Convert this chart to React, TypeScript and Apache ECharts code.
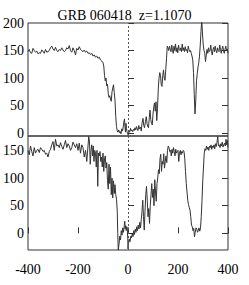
import React, { useEffect, useRef } from "react";
import * as echarts from "echarts";

const titleText = "GRB 060418  z=1.1070";
const xTicks = [-400, -200, 0, 200, 400];
const topYTicks = [0, 50, 100, 150, 200];
const bottomYTicks = [0, 50, 100, 150];

const topVel = [
  -400, -395, -390, -385, -380, -375, -370, -365, -360, -355, -350, -345, -340, -335, -330, -325, -320, -315, -310, -305,
  -300, -295, -290, -285, -280, -275, -270, -265, -260, -255, -250, -245, -240, -235, -230, -225, -220, -215, -210, -205,
  -200, -195, -190, -185, -180, -175, -170, -165, -160, -155, -150, -145, -140, -135, -130, -125, -120, -115, -110, -105,
  -100, -97, -94, -91, -88, -85, -82, -79, -76, -73, -70, -67, -64, -61, -58, -55, -52, -49, -46, -43,
  -40, -37, -34, -31, -28, -25, -22, -19, -16, -14, -12, -10, -8, -6, -4, -2, 0, 2, 4, 7,
  10, 13, 16, 19, 22, 25, 28, 31, 34, 37, 40, 43, 46, 50, 53, 56, 60, 63, 66, 70,
  73, 76, 79, 82, 85, 88, 91, 94, 97, 100, 103, 106, 109, 112, 115, 118, 121, 124, 127, 130,
  133, 136, 139, 142, 145, 148, 151, 154, 157, 160, 163, 166, 169, 172, 175, 178, 181, 184, 187, 190,
  193, 196, 199, 202, 205, 208, 211, 214, 217, 220, 223, 226, 229, 232, 235, 238, 241, 244, 247, 250,
  253, 256, 259, 262, 265, 268, 271, 274, 277, 280, 283, 286, 289, 292, 295, 298, 301, 304, 307, 310,
  313, 316, 319, 322, 325, 328, 331, 334, 337, 340, 343, 346, 349, 352, 355, 358, 361, 364, 367, 370,
  373, 376, 379, 382, 385, 388, 391, 394, 397, 400,
];
const topFlux = [
  148, 152, 146, 145, 154, 150, 147, 149, 144, 146, 145, 151, 149, 145, 152, 147, 148, 150, 155, 158,
  153, 150, 156, 150, 148, 152, 150, 155, 151, 148, 150, 155, 153, 159, 150, 147, 155, 150, 142, 154,
  151, 157, 152, 150, 148, 151, 147, 149, 145, 146, 143, 145, 140, 142, 138, 140, 136, 138, 133, 131,
  128, 122, 105, 95, 100, 86, 89, 72, 65, 68, 62, 58, 75, 82, 88, 74, 60, 30, 12, 4,
  2, 6, 1, 3, -1, 8, 4, 12, 22, 26, 10, 2, 18, 8, 3, 0, -3, -2, 5, 2,
  9, 4, 6, 3, 7, 5, 10, 6, 12, 8, 5, 14, 8, 11, 4, 18, 27, 14, 10, 22,
  30, 18, 12, 10, 28, 42, 25, 18, 15, 35, 48, 55, 40, 57, 23, 45, 80, 100, 110, 105,
  88, 85, 105, 115, 100, 96, 115, 135, 158, 155, 150, 158, 152, 148, 160, 150, 145, 158, 150, 162,
  148, 155, 146, 160, 152, 150, 155, 148, 162, 150, 155, 148, 157, 150, 152, 146, 158, 152, 148, 150,
  145, 140, 133, 110, 70, 35, 60, 95, 108, 120, 128, 140, 160, 185, 205, 180, 160, 150, 145, 130,
  142, 152, 145, 155, 148, 150, 160, 148, 142, 152, 156, 148, 158, 150, 146, 155, 150, 148, 160, 152,
  145, 153, 158, 150, 145, 152, 158, 150, 153, 145,
];

const bottomVel = [
  -400, -395, -390, -385, -380, -375, -370, -365, -360, -355, -350, -345, -340, -335, -330, -325, -320, -315, -310, -305,
  -300, -295, -290, -285, -280, -275, -270, -265, -260, -255, -250, -245, -240, -235, -230, -225, -220, -215, -210, -205,
  -200, -195, -190, -185, -180, -175, -170, -165, -160, -157, -154, -151, -148, -145, -142, -139, -136, -133, -130, -127,
  -124, -121, -118, -115, -112, -109, -106, -103, -100, -97, -94, -91, -88, -85, -82, -79, -76, -73, -70, -67,
  -64, -61, -58, -55, -52, -49, -46, -43, -41, -39, -36, -33, -30, -27, -24, -21, -18, -15, -13, -11,
  -9, -7, -5, -3, -1, 0, 2, 5, 8, 11, 14, 17, 20, 23, 26, 29, 32, 35, 38, 41,
  44, 47, 50, 53, 56, 59, 62, 65, 68, 71, 74, 77, 80, 83, 86, 89, 92, 95, 98, 101,
  104, 107, 110, 113, 116, 119, 122, 125, 128, 131, 134, 137, 140, 143, 146, 149, 152, 155, 158, 161,
  164, 167, 170, 173, 176, 179, 182, 185, 188, 191, 194, 197, 200, 203, 206, 209, 212, 215, 218, 221,
  224, 227, 230, 233, 236, 239, 242, 245, 248, 251, 254, 257, 260, 263, 266, 269, 272, 275, 278, 281,
  284, 287, 290, 293, 296, 299, 302, 305, 308, 311, 314, 317, 320, 323, 326, 329, 332, 335, 338, 341,
  344, 347, 350, 353, 356, 359, 362, 365, 368, 371, 374, 377, 380, 383, 386, 389, 392, 395, 398, 400,
];
const bottomFlux = [
  150, 142, 158, 148, 140, 155, 145, 150, 152, 146, 155, 152, 148, 150, 143, 145, 138, 148, 152, 160,
  166, 150, 170, 158, 160, 155, 164, 157, 152, 160, 168, 155, 162, 158, 150, 155, 165, 160, 155, 162,
  150, 163, 145, 160, 155, 138, 150, 130, 158, 175, 165, 125, 150, 160, 140, 158, 130, 150, 145, 120,
  150, 85, 145, 140, 148, 130, 138, 120, 145, 112, 135, 140, 118, 128, 95, 80, 125, 90, 120, 70,
  100, 64, 95, 72, 88, 70, 62, 40, 0, -30, -20, -5, -12, 5, -3, 10, 2, 14, 22, 8,
  14, 5, 12, 10, -10, -28, -18, -10, -15, -5, -8, 0, -6, 5, -2, 8, 2, 12, 5, 15,
  8, 20, 10, 25, 40, 60, 30, 6, 40, 70, 85, 60, 30, 45, 18, 50, 70, 90, 65, 80,
  50, 97, 75, 58, 90, 100, 115, 108, 135, 143, 112, 130, 125, 144, 118, 130, 140, 128, 150, 158,
  155, 148, 150, 140, 152, 145, 155, 148, 140, 152, 145, 148, 150, 130, 145, 150, 142, 148, 145, 150,
  148, 135, 112, 90, 75, 60, 52, 47, 42, 30, 15, 12, 5, 9, -6, 2, 10, 8, 2, 5,
  10, 4, 10, 30, 60, 95, 120, 145, 153, 150, 158, 152, 156, 150, 158, 155, 160, 152, 158, 155,
  160, 153, 162, 157, 165, 175, 158, 160, 155, 162, 158, 165, 156, 160, 163, 158, 170, 160, 168, 155,
];

const FONT = "'Liberation Serif', 'Times New Roman', serif";
const FRAME = "#333";
const LINE = "#333";

function pairs(v: number[], f: number[]) {
  return v.map((x, i) => [x, f[i]]);
}

export default function App() {
  const ref = useRef<HTMLDivElement>(null);
  useEffect(() => {
    if (!ref.current) return;
    const chart = echarts.init(ref.current, null, { renderer: "svg" });
    const labelStyle = { fontFamily: FONT, fontSize: 14, color: "#000" };
    const markLine = {
      silent: true,
      symbol: ["none", "none"],
      label: { show: false },
      lineStyle: { type: [2, 2], color: "#555", width: 1 },
      data: [{ xAxis: 0 }],
    };
    const mkX = (gridIndex: number, showLabel: boolean) => ({
      type: "value",
      gridIndex,
      min: -400,
      max: 400,
      interval: 200,
      axisLine: { show: false },
      splitLine: { show: false },
      axisTick: { show: showLabel, inside: true, length: 6, lineStyle: { color: FRAME } },
      axisLabel: { show: showLabel, margin: 12, ...labelStyle },
    });
    const mkY = (gridIndex: number, min: number, max: number, ticks: number[], right: boolean) => ({
      type: "value",
      gridIndex,
      min,
      max,
      position: right ? "right" : "left",
      axisLine: { show: false },
      splitLine: { show: false },
      axisTick: { show: true, inside: true, length: 6, customValues: ticks, lineStyle: { color: FRAME } },
      axisLabel: { show: !right, margin: 4, customValues: ticks, ...labelStyle },
    });
    chart.setOption({
      animation: false,
      title: {
        text: titleText,
        left: "center",
        top: 3,
        textStyle: { fontFamily: FONT, fontSize: 14, fontWeight: "normal", color: "#000" },
      },
      grid: [
        { left: 25, top: 23, width: 203, height: 113, show: true, borderColor: FRAME, borderWidth: 1, backgroundColor: "transparent" },
        { left: 25, top: 136, width: 203, height: 114, show: true, borderColor: FRAME, borderWidth: 1, backgroundColor: "transparent" },
      ],
      xAxis: [mkX(0, false), mkX(1, true)],
      yAxis: [
        mkY(0, -5, 200, topYTicks, false),
        mkY(0, -5, 200, topYTicks, true),
        mkY(1, -30, 176, bottomYTicks, false),
        mkY(1, -30, 176, bottomYTicks, true),
      ],
      series: [
        {
          type: "line",
          xAxisIndex: 0,
          yAxisIndex: 0,
          data: pairs(topVel, topFlux),
          showSymbol: false,
          lineStyle: { color: LINE, width: 1 },
          markLine,
        },
        {
          type: "line",
          xAxisIndex: 1,
          yAxisIndex: 2,
          data: pairs(bottomVel, bottomFlux),
          showSymbol: false,
          lineStyle: { color: LINE, width: 1 },
          markLine,
        },
      ],
    });
    return () => chart.dispose();
  }, []);
  return (
    <div
      ref={ref}
      style={{ position: "fixed", left: 0, top: 0, width: 249, height: 285, background: "#fff" }}
    />
  );
}
